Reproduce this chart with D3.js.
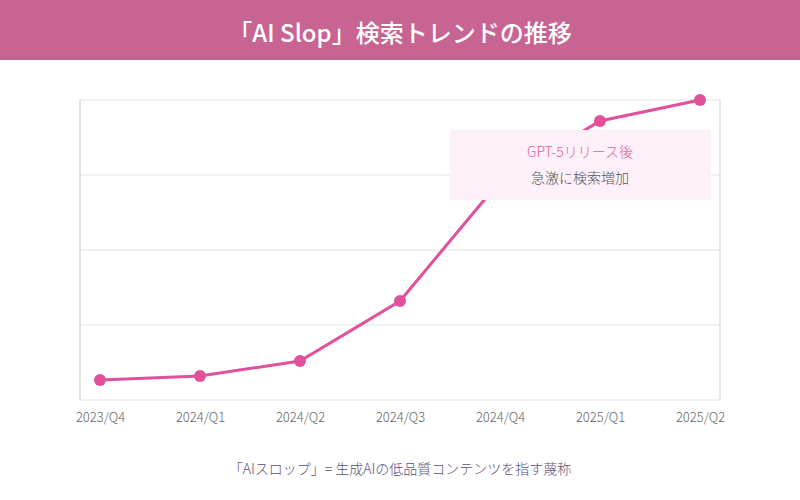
<!DOCTYPE html>
<html>
<head>
<meta charset="utf-8">
<script src="https://cdn.jsdelivr.net/npm/d3@7"></script>
<style>
  body { margin: 0; background: #fff; }
  svg { display: block; font-family: "Noto Sans CJK JP", "Noto Sans", sans-serif; }
</style>
</head>
<body>
<svg width="800" height="500"></svg>
<script>
// quarters and search trend index
const quarters = ["2023/Q4", "2024/Q1", "2024/Q2", "2024/Q3", "2024/Q4", "2025/Q1", "2025/Q2"];
const trend = [6.7, 8, 13, 33, 73, 93, 100];
const gridTicks = [0, 25, 50, 75, 100];

const title = "「AI Slop」検索トレンドの推移";
const noteLines = ["GPT-5リリース後", "急激に検索増加"];
const footer = "「AIスロップ」= 生成AIの低品質コンテンツを指す蔑称";

const svg = d3.select("svg");
const width = 800;
const plot = { left: 80, right: 720, top: 100, bottom: 400 };

// header band
svg.append("rect")
  .attr("width", width)
  .attr("height", 60)
  .attr("fill", "#c86492");
svg.append("text")
  .attr("x", width / 2)
  .attr("y", 31)
  .attr("text-anchor", "middle")
  .attr("dominant-baseline", "central")
  .attr("fill", "#fff")
  .attr("font-size", 24)
  .attr("font-weight", 500)
  .text(title);

const x = d3.scalePoint()
  .domain(quarters)
  .range([plot.left + 20, plot.right - 20]);

const y = d3.scaleLinear()
  .domain([0, 100])
  .range([plot.bottom, plot.top]);

// horizontal grid
svg.append("g")
  .selectAll("line")
  .data(gridTicks)
  .join("line")
  .attr("x1", plot.left)
  .attr("x2", plot.right)
  .attr("y1", (d) => y(d))
  .attr("y2", (d) => y(d))
  .attr("stroke", "#e3e3e3")
  .attr("stroke-width", 1);

// frame sides
svg.append("line")
  .attr("x1", plot.left).attr("x2", plot.left)
  .attr("y1", plot.top).attr("y2", plot.bottom)
  .attr("stroke", "#c8c8c8");
svg.append("line")
  .attr("x1", plot.right).attr("x2", plot.right)
  .attr("y1", plot.top).attr("y2", plot.bottom)
  .attr("stroke", "#d0d0d0");

// x axis labels
const xAxis = d3.axisBottom(x).tickSize(0).tickPadding(13);
svg.append("g")
  .attr("transform", `translate(0,${plot.bottom})`)
  .call(xAxis)
  .call((g) => g.select(".domain").remove())
  .call((g) => g.selectAll("text")
    .attr("fill", "#666")
    .attr("font-size", 13)
    .attr("font-weight", 300)
    .attr("font-family", "'Noto Sans CJK JP', 'Noto Sans', sans-serif"));

// line + markers
const line = d3.line()
  .x((d, i) => x(quarters[i]))
  .y((d) => y(d));

svg.append("path")
  .datum(trend)
  .attr("fill", "none")
  .attr("stroke", "#e0509b")
  .attr("stroke-width", 3)
  .attr("d", line);

svg.append("g")
  .selectAll("circle")
  .data(trend)
  .join("circle")
  .attr("cx", (d, i) => x(quarters[i]))
  .attr("cy", (d) => y(d))
  .attr("r", 6)
  .attr("fill", "#e0509b");

// annotation box
const note = svg.append("g");
note.append("rect")
  .attr("x", 450)
  .attr("y", 130)
  .attr("width", 261)
  .attr("height", 70)
  .attr("fill", "#fdf0f8");
note.append("text")
  .attr("x", 580)
  .attr("y", 151)
  .attr("text-anchor", "middle")
  .attr("dominant-baseline", "central")
  .attr("fill", "#e0609f")
  .attr("font-size", 14)
  .attr("font-weight", 300)
  .text(noteLines[0]);
note.append("text")
  .attr("x", 580)
  .attr("y", 177)
  .attr("text-anchor", "middle")
  .attr("dominant-baseline", "central")
  .attr("fill", "#555")
  .attr("font-size", 14)
  .attr("font-weight", 300)
  .text(noteLines[1]);

// footer note
svg.append("text")
  .attr("x", width / 2)
  .attr("y", 468)
  .attr("text-anchor", "middle")
  .attr("dominant-baseline", "central")
  .attr("fill", "#5c4f78")
  .attr("font-size", 14)
  .attr("font-weight", 300)
  .text(footer);
</script>
</body>
</html>
